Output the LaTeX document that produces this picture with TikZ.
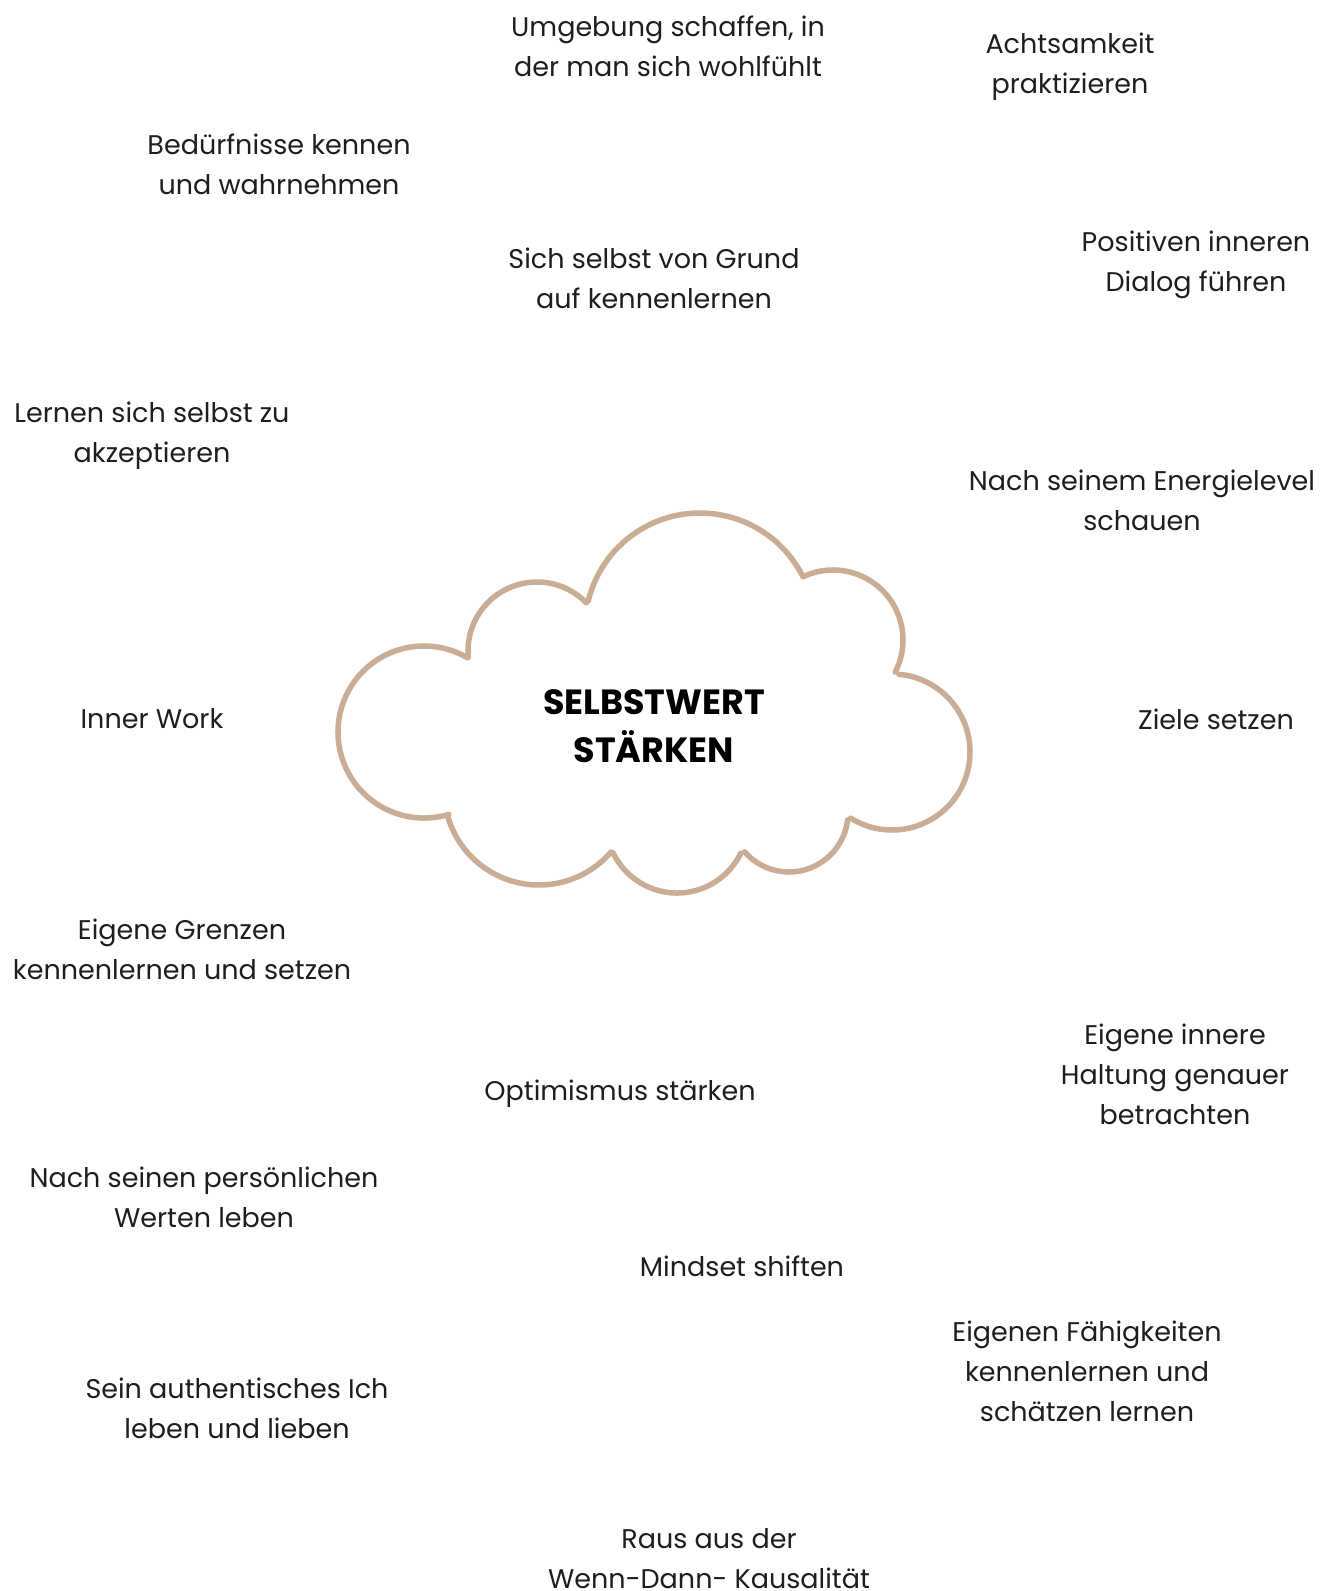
\documentclass[tikz,border=0pt]{standalone}
\usepackage{fontspec}
\setmainfont{Poppins}
\definecolor{cloudline}{HTML}{CAAD95}
\definecolor{ink}{HTML}{1E1E1E}
\begin{document}
\begin{tikzpicture}[x=1pt,y=-1pt,
  item/.style={align=center,text=ink,font=\fontsize{27}{40}\selectfont,inner sep=0pt},
  title/.style={align=center,text=black,font=\fontsize{35}{48}\selectfont\bfseries,inner sep=0pt},
  lobe/.style={draw=cloudline,line width=5.5pt,line cap=round,line join=round}]
\useasboundingbox[fill=white] (0,0) rectangle (1338,1591);

% cloud outline, one arc per lobe (clockwise on the page)
\draw[lobe] (537,651) ++(175:69) arc[start angle=175,end angle=315.6,radius=69];
\draw[lobe] (700,628) ++(193.6:115) arc[start angle=193.6,end angle=332.5,radius=115];
\draw[lobe] (833,640) ++(244.5:70) arc[start angle=244.5,end angle=387.3,radius=70];
\draw[lobe] (892,752) ++(275:78) arc[start angle=275,end angle=482,radius=78];
\draw[lobe] (789,813) ++(6.7:59) arc[start angle=6.7,end angle=138.9,radius=59];
\draw[lobe] (677,822) ++(26.2:71) arc[start angle=26.2,end angle=154.5,radius=71];
\draw[lobe] (539,790) ++(40.8:95) arc[start angle=40.8,end angle=164.5,radius=95];
\draw[lobe] (424,732) ++(73.2:86) arc[start angle=73.2,end angle=300.4,radius=86];

\node[title] (center) at (654,726) {SELBSTWERT\\STÄRKEN};

\node[item] (umgebung) at (668,46) {Umgebung schaffen, in\\der man sich wohlfühlt};
\node[item] (achtsam) at (1070,67) {Achtsamkeit\\praktizieren};
\node[item] (beduerf) at (279,164) {Bedürfnisse kennen\\und wahrnehmen};
\node[item] (grund) at (654,278) {Sich selbst von Grund\\auf kennenlernen};
\node[item] (dialog) at (1196,265) {Positiven inneren\\Dialog führen};
\node[item] (akzept) at (152,436) {Lernen sich selbst zu\\akzeptieren};
\node[item] (energie) at (1142,500) {Nach seinem Energielevel\\schauen};
\node[item] (inner) at (152,719) {Inner Work};
\node[item] (ziele) at (1216,719) {Ziele setzen};
\node[item] (grenzen) at (182,949) {Eigene Grenzen\\kennenlernen und setzen};
\node[item] (haltung) at (1175,1074) {Eigene innere\\Haltung genauer\\betrachten};
\node[item] (optim) at (620,1094) {Optimismus stärken};
\node[item] (werte) at (204,1197) {Nach seinen persönlichen\\Werten leben};
\node[item] (mindset) at (742,1266) {Mindset shiften};
\node[item] (faehig) at (1087,1371) {Eigenen Fähigkeiten\\kennenlernen und\\schätzen lernen};
\node[item] (authent) at (237,1408) {Sein authentisches Ich\\leben und lieben};
\node[item] (kausal) at (709,1559) {Raus aus der\\Wenn-Dann- Kausalität};
\end{tikzpicture}
\end{document}
